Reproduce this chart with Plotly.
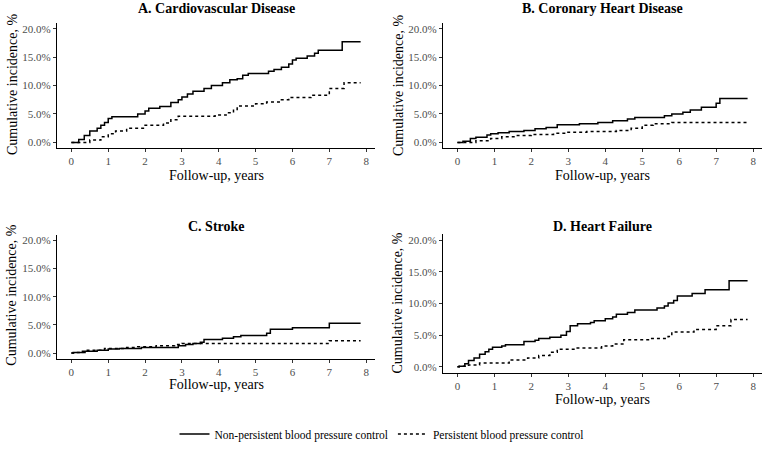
import plotly.graph_objects as go

W, H = 763, 449

# ---- data (years, cumulative incidence %) ----
cvd_np_t = [0, 0.2, 0.35, 0.5, 0.7, 0.8, 0.9, 1.0, 1.1, 1.8, 2.0, 2.1, 2.4, 2.7, 2.9, 3.0, 3.15, 3.3, 3.6, 3.8, 4.1, 4.3, 4.5, 4.65, 4.8, 5.35, 5.5, 5.7, 5.9, 6.0, 6.1, 6.4, 6.6, 6.7, 7.35, 7.85]
cvd_np_y = [0, 0.5, 1.2, 2.0, 2.5, 3.0, 3.5, 4.2, 4.5, 5.0, 5.5, 6.0, 6.3, 7.0, 7.5, 8.0, 8.5, 9.0, 9.5, 10.0, 10.5, 11.0, 11.2, 11.8, 12.1, 12.5, 12.8, 13.2, 13.8, 14.5, 14.8, 15.2, 15.7, 16.2, 17.7, 17.7]
cvd_p_t = [0, 0.5, 0.8, 1.0, 1.2, 1.5, 2.0, 2.5, 2.7, 2.9, 3.9, 4.2, 4.4, 4.5, 5.0, 5.3, 5.7, 5.9, 6.5, 7.0, 7.4, 7.85]
cvd_p_y = [0, 0.4, 1.0, 1.5, 2.0, 2.5, 3.0, 3.4, 4.0, 4.6, 4.8, 5.2, 5.8, 6.4, 6.8, 7.1, 7.5, 7.9, 8.3, 9.5, 10.5, 10.5]

chd_np_t = [0, 0.15, 0.35, 0.5, 0.8, 0.9, 1.1, 1.4, 1.8, 2.1, 2.4, 2.7, 3.3, 3.8, 4.2, 4.6, 4.8, 5.6, 5.8, 6.1, 6.3, 6.6, 7.0, 7.1, 7.85]
chd_np_y = [0, 0.2, 0.7, 0.9, 1.3, 1.5, 1.7, 1.9, 2.1, 2.4, 2.6, 3.1, 3.3, 3.5, 3.8, 4.1, 4.4, 4.7, 5.0, 5.3, 5.7, 6.2, 6.9, 7.7, 7.7]
chd_p_t = [0, 0.5, 0.9, 1.2, 1.6, 2.0, 2.6, 2.9, 3.5, 4.3, 4.7, 5.0, 5.3, 5.8, 7.85]
chd_p_y = [0, 0.3, 0.7, 1.0, 1.2, 1.4, 1.6, 1.8, 1.9, 2.1, 2.5, 3.0, 3.3, 3.5, 3.5]

stk_np_t = [0, 0.05, 0.3, 0.7, 1.0, 1.3, 1.9, 2.9, 3.1, 3.3, 3.5, 3.6, 4.1, 4.4, 4.6, 5.3, 5.4, 6.0, 7.0, 7.85]
stk_np_y = [0, 0.1, 0.3, 0.5, 0.7, 0.8, 1.0, 1.3, 1.5, 1.7, 1.9, 2.4, 2.6, 2.9, 3.1, 3.5, 4.2, 4.5, 5.3, 5.3]
stk_p_t = [0, 0.1, 0.4, 0.9, 1.5, 1.8, 2.3, 2.8, 3.0, 7.0, 7.85]
stk_p_y = [0, 0.1, 0.5, 0.8, 1.0, 1.1, 1.3, 1.5, 1.7, 2.2, 2.2]

hf_np_t = [0, 0.05, 0.2, 0.3, 0.45, 0.6, 0.75, 0.85, 0.95, 1.2, 1.3, 1.8, 2.1, 2.2, 2.5, 2.8, 2.95, 3.05, 3.25, 3.6, 3.7, 4.0, 4.2, 4.3, 4.6, 4.8, 5.4, 5.6, 5.7, 5.85, 5.95, 6.35, 6.7, 7.35, 7.85]
hf_np_y = [0, 0.1, 0.5, 1.0, 1.4, 2.0, 2.4, 2.8, 3.1, 3.3, 3.5, 4.0, 4.2, 4.5, 4.7, 5.0, 5.6, 6.5, 6.8, 7.0, 7.3, 7.6, 7.9, 8.3, 8.6, 9.0, 9.3, 9.6, 10.1, 10.5, 11.2, 11.6, 12.2, 13.6, 13.6]
hf_p_t = [0, 0.05, 0.3, 0.6, 1.4, 1.9, 2.2, 2.5, 2.7, 3.2, 3.9, 4.2, 4.5, 5.2, 5.7, 5.8, 6.4, 7.0, 7.4, 7.85]
hf_p_y = [0, 0.1, 0.3, 0.6, 1.1, 1.4, 1.8, 2.3, 2.8, 3.0, 3.3, 3.6, 4.3, 4.5, 4.8, 5.5, 5.9, 6.5, 7.5, 7.5]

panel_titles = ["A. Cardiovascular Disease", "B. Coronary Heart Disease", "C. Stroke", "D. Heart Failure"]
series_names = ["Non-persistent blood pressure control", "Persistent blood pressure control"]
x_ticks = [0, 1, 2, 3, 4, 5, 6, 7, 8]
y_ticks = [0, 5, 10, 15, 20]
y_ticklabels = ["0.0%", "5.0%", "10.0%", "15.0%", "20.0%"]

panels = [
    (cvd_np_t, cvd_np_y, cvd_p_t, cvd_p_y),
    (chd_np_t, chd_np_y, chd_p_t, chd_p_y),
    (stk_np_t, stk_np_y, stk_p_t, stk_p_y),
    (hf_np_t, hf_np_y, hf_p_t, hf_p_y),
]

# pixel layout: (x_left, x_right, y_bottom, y_top) of axis boxes
boxes = [
    (57, 375, 149.75, 23.25),
    (443, 762, 149.75, 23.25),
    (57, 375, 362.7, 237.3),
    (443, 762, 377.4, 236.6),
]
title_pos = [(216, 9), (602, 9), (216, 229), (602, 229)]
xtitle_pos = [(216, 177), (602, 177), (216, 389), (602, 404)]
ytitle_pos = [(12, 86), (398, 86), (12, 299), (398, 306)]

FONT = "Liberation Serif"
fig = go.Figure()
layout = dict(
    width=W, height=H, margin=dict(l=0, r=0, t=0, b=0),
    paper_bgcolor="white", plot_bgcolor="white",
    font=dict(family=FONT, color="black"),
    showlegend=True,
    legend=dict(orientation="h", x=0.5, xanchor="center", y=1 - 439 / H, yanchor="middle",
                font=dict(family=FONT, size=11.5, color="black"), itemwidth=30,
                bgcolor="rgba(0,0,0,0)"),
)
annotations = []
for i, (tnp, ynp, tp, yp) in enumerate(panels):
    k = "" if i == 0 else str(i + 1)
    fig.add_trace(go.Scatter(x=tnp, y=ynp, mode="lines", line=dict(color="black", width=1.5, shape="hv"),
                             name=series_names[0], showlegend=(i == 0), xaxis="x" + k, yaxis="y" + k))
    fig.add_trace(go.Scatter(x=tp, y=yp, mode="lines", line=dict(color="black", width=1.5, shape="hv", dash="3px,3px"),
                             name=series_names[1], showlegend=(i == 0), xaxis="x" + k, yaxis="y" + k))
    xl, xr, yb, yt = boxes[i]
    axcommon = dict(showgrid=False, zeroline=False, showline=True, linecolor="black", linewidth=1.2,
                    ticks="outside", ticklen=3, tickcolor="#333333", tickwidth=1,
                    ticklabeloverflow="allow",
                    tickfont=dict(family=FONT, size=11, color="#4d4d4d"))
    layout["xaxis" + k] = dict(domain=[xl / W, xr / W], range=[-0.39, 8.24], tickvals=x_ticks,
                               anchor="y" + k, **axcommon)
    layout["yaxis" + k] = dict(domain=[1 - yb / H, 1 - yt / H], range=[-1, 21], tickvals=y_ticks,
                               ticktext=y_ticklabels, anchor="x" + k, **axcommon)
    tx, ty = title_pos[i]
    annotations.append(dict(text="<b>" + panel_titles[i] + "</b>", x=tx / W, y=1 - ty / H, xref="paper", yref="paper",
                            showarrow=False, xanchor="center", yanchor="middle",
                            font=dict(family=FONT, size=14, color="black")))
    ax_, ay_ = xtitle_pos[i]
    annotations.append(dict(text="Follow-up, years", x=ax_ / W, y=1 - ay_ / H, xref="paper", yref="paper",
                            showarrow=False, xanchor="center", yanchor="middle",
                            font=dict(family=FONT, size=14, color="black")))
    bx, by = ytitle_pos[i]
    annotations.append(dict(text="Cumulative incidence, %", x=bx / W, y=1 - by / H, xref="paper", yref="paper",
                            showarrow=False, xanchor="center", yanchor="middle", textangle=-90,
                            font=dict(family=FONT, size=14, color="black")))
layout["annotations"] = annotations
fig.update_layout(**layout)
fig.write_html("out.html", config={"displayModeBar": False},
               post_script="document.body.style.margin='0';document.body.style.overflow='hidden';")
